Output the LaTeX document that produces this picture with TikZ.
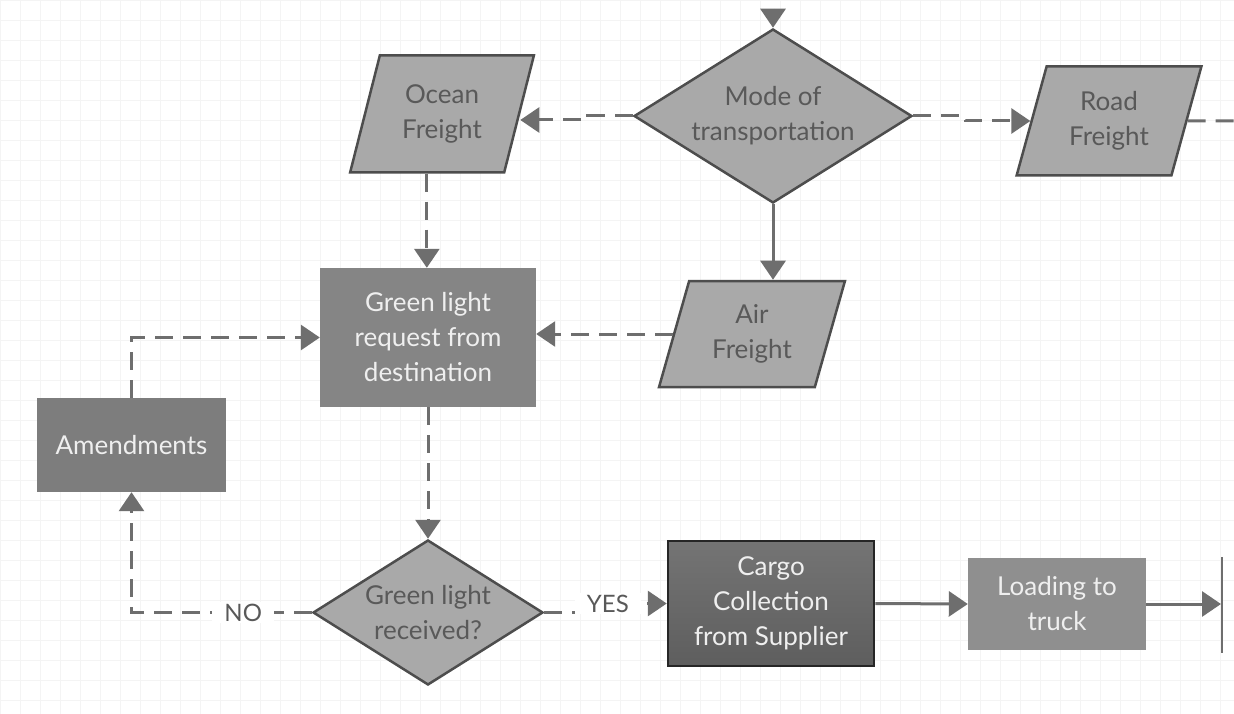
\documentclass[tikz,border=0pt]{standalone}
\usepackage{fontspec}
\setmainfont{Lato}
\usetikzlibrary{shapes.geometric,arrows.meta,calc}

\definecolor{shapefill}{HTML}{A9A9A9}
\definecolor{shapeedge}{HTML}{4D4D4D}
\definecolor{darktext}{HTML}{595959}
\definecolor{lighttext}{HTML}{EFEFEF}
\definecolor{linecol}{HTML}{6E6E6E}
\definecolor{boxA}{HTML}{858585}
\definecolor{boxB}{HTML}{7D7D7D}
\definecolor{boxC}{HTML}{8F8F8F}
\definecolor{cargotop}{HTML}{747474}
\definecolor{cargobot}{HTML}{5E5E5E}
\definecolor{gridcol}{HTML}{F4F4F4}

\tikzset{
  txt/.style={font=\fontsize{26}{35}\selectfont, align=center},
  decision/.style={diamond, txt, draw=shapeedge, fill=shapefill, line width=2.5pt,
    text=darktext, inner sep=0pt, shape aspect=1.6},
  io/.style={trapezium, trapezium left angle=72, trapezium right angle=108,
    trapezium stretches=true, txt, draw=shapeedge, fill=shapefill, line width=2.5pt,
    text=darktext, inner sep=0pt},
  process/.style={rectangle, txt, text=lighttext, inner sep=0pt},
  conn/.style={draw=linecol, line width=3pt},
  dashconn/.style={conn, dash pattern=on 18pt off 10pt},
  tip/.style={-{Triangle[length=19pt,width=25pt]}},
  lbl/.style={font=\fontsize{24}{28}\selectfont, text=darktext, fill=white,
    inner xsep=12pt, inner ysep=2pt}
}

\begin{document}
\begin{tikzpicture}[x=1pt, y=-1pt]
  \useasboundingbox (0,0) rectangle (1234,714);
  \fill[white] (0,0) rectangle (1234,714);
  \draw[gridcol, line width=0.6pt] (0,0) grid[step=20pt] (1234,714);

  % shapes
  \node[decision, minimum width=278pt, minimum height=174pt] (mode) at (773,116) {Mode of\\transportation};
  \node[io, minimum width=184pt, minimum height=117pt] (ocean) at (442,114) {Ocean\\Freight};
  \node[io, minimum width=185pt, minimum height=109pt] (road) at (1109,121) {Road\\Freight};
  \node[io, minimum width=186pt, minimum height=106pt] (air) at (752,334) {Air\\Freight};
  \node[process, fill=boxA, minimum width=216pt, minimum height=139pt] (greq) at (428,337.5) {Green light\\request from\\destination};
  \node[process, fill=boxB, minimum width=189pt, minimum height=94pt] (amend) at (131.5,445) {Amendments};
  \node[decision, minimum width=230pt, minimum height=145pt] (recv) at (428,612.5) {Green light\\received?};
  \node[process, top color=cargotop, bottom color=cargobot, draw=black!85, line width=2.5pt,
    minimum width=206pt, minimum height=125pt] (cargo) at (771,603.5) {Cargo\\Collection\\from Supplier};
  \node[process, fill=boxC, minimum width=178pt, minimum height=92pt] (load) at (1057,604) {Loading to\\truck};

  % free ends
  \coordinate (modein) at (773,9);
  \coordinate (roadout) at (1234,121);
  \coordinate (endpt) at (1221,604);
  \coordinate (endtop) at (1222,557);
  \coordinate (endbot) at (1222,653);

  % connectors
  \draw[conn,tip] (modein) -- (mode.north);
  \draw[dashconn,tip] (mode.west) -- ++(-45,0) |- ([yshift=-6pt]ocean.east);
  \draw[dashconn,tip] (mode.east) -- ++(52,0) |- (road.west);
  \draw[dashconn] (road.east) -- (roadout);
  \draw[conn,tip] (mode.south) -- (mode.south |- air.north);
  \draw[dashconn,tip] (ocean.bottom side) -- (ocean.bottom side |- greq.north);
  \draw[dashconn,tip] (air.left side) -- (air.left side -| greq.east);
  \draw[dashconn,tip] (amend.north) |- (greq.west);
  \draw[dashconn,tip] (greq.south) -- (recv.north);
  \draw[dashconn,tip] (recv.west) -| node[lbl,pos=0.19]{NO} (amend.south);
  \draw[dashconn,tip] (recv.east) -- ++(45,0) |- node[lbl,pos=0.62]{YES} (cargo.west);
  \draw[conn,tip] (cargo.east) -- (load.west);
  \draw[conn,tip] (load.east) -- (endpt);
  \draw[draw=linecol, line width=1.5pt] (endtop) -- (endbot);
\end{tikzpicture}
\end{document}
